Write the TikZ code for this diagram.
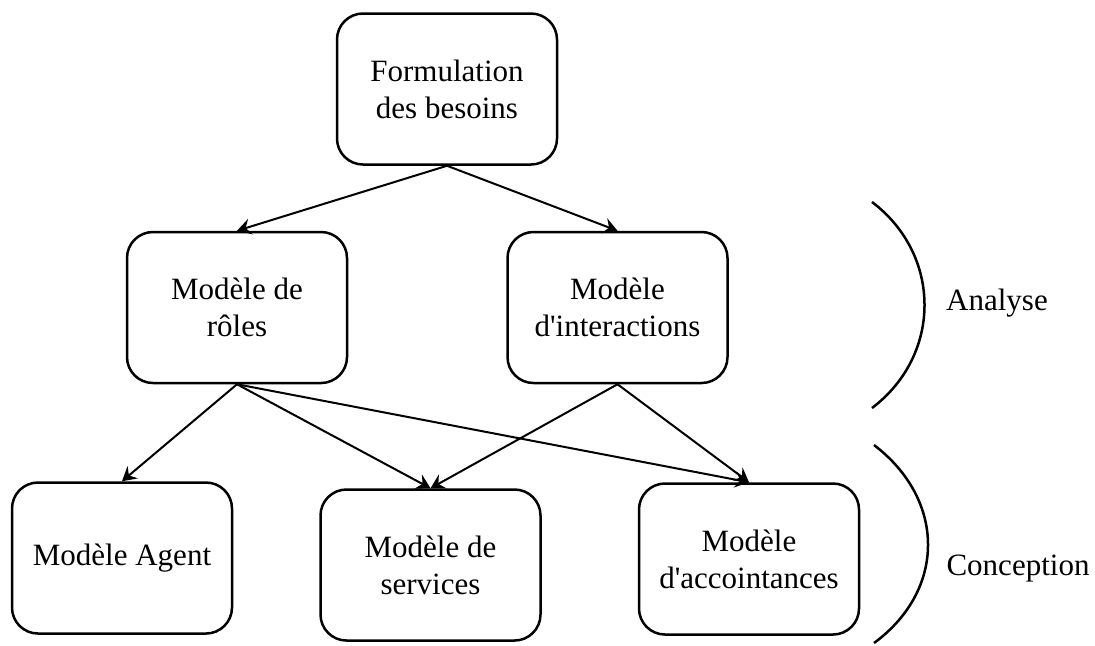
\documentclass[tikz,border=0pt]{standalone}
\usepackage{fontspec}
\setmainfont{Liberation Serif}
\usepackage{tikz}
\usetikzlibrary{arrows.meta,positioning}
\tikzset{modele/.style={draw, line width=1.25pt, rounded corners=13pt, align=center,
    minimum width=110pt, minimum height=75.5pt, inner sep=2pt}}

\begin{document}
\begin{tikzpicture}[x=0.5pt, y=-0.5pt, ->, >={Stealth[length=7pt,width=8pt,inset=2.5pt]},
      line width=1pt, font=\fontsize{15.5pt}{18.5pt}\selectfont]
     \useasboundingbox (0,0) rectangle (1095,645);
     \node[modele] (formul) at (447,89) {Formulation\\des besoins};
     \node[modele, below = 32.5pt of formul, xshift=-105pt] (roles) {Modèle de\\rôles};
     \node[modele, right = 79pt of roles] (interact) {Modèle\\d\textquotesingle interactions};
     \node[modele, below = 48.5pt of roles, xshift=-57.5pt] (agent) {Modèle Agent};
     \node[modele, right = 43pt of agent, yshift=-3.5pt] (services) {Modèle de\\services};
     \node[modele, right = 48pt of services, yshift=3pt] (accoint) {Modèle\\d\textquotesingle accointances};
     \draw (formul.south) -- (roles.north);
     \draw (formul.south) -- (interact.north);
     \draw (roles.south) -- (agent.north);
     \draw (roles.south) -- (services.north);
     \draw (roles.south) -- (accoint.north);
     \draw (interact.south) -- (services.north);
     \draw (interact.south) -- (accoint.north);
     % phases
     \draw[-, line width=1.25pt] (872,202) .. controls (942,255) and (942,355) .. (872,408);
     \draw[-, line width=1.25pt] (874,445) .. controls (946,500) and (946,590) .. (874,643);
     \node (analyse) at (997,303) {Analyse};
     \node (concep) at (1018,569) {Conception};
\end{tikzpicture}
\end{document}
